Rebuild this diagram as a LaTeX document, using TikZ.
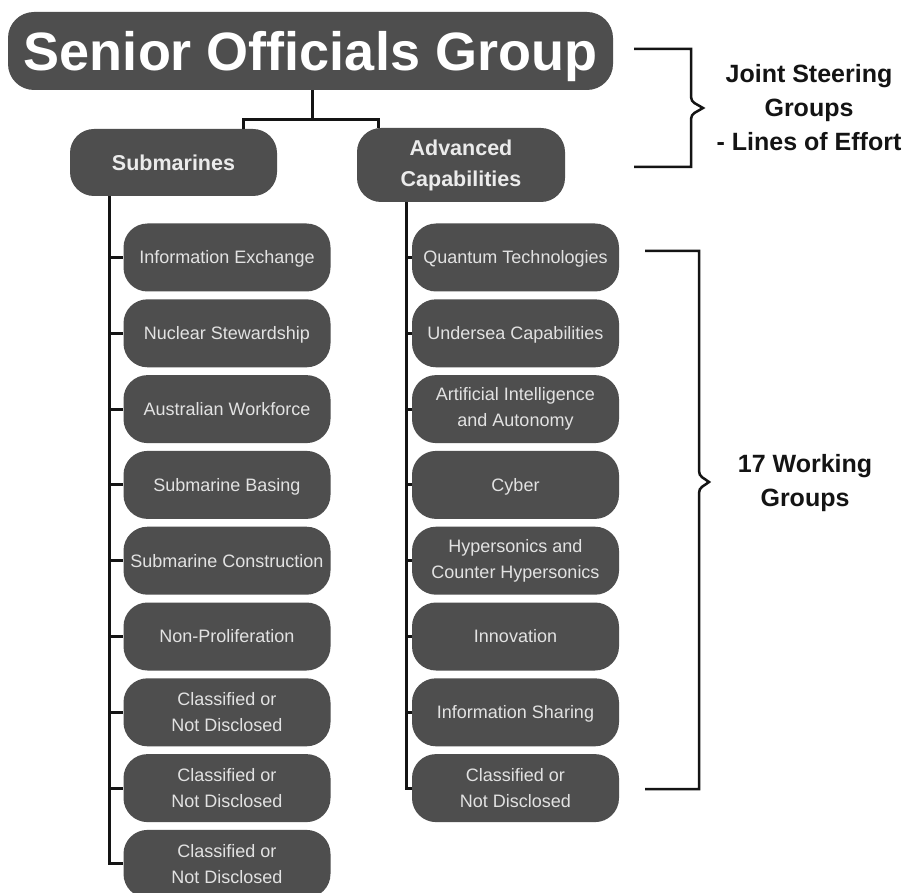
\documentclass[tikz,border=0pt]{standalone}
\usepackage{fontspec}
\setmainfont{Liberation Sans}
\definecolor{boxgray}{RGB}{78,78,78}
\definecolor{txtgray}{RGB}{226,226,226}
\definecolor{linec}{RGB}{20,20,20}
\tikzset{
  wg/.style={fill=boxgray, rounded corners=24pt, minimum width=207pt, minimum height=68pt,
    inner sep=0pt, text=txtgray, align=center, font=\fontsize{18}{25.7}\selectfont},
  wgone/.style={wg, text height=12.9pt, text depth=0pt},
  head/.style={fill=boxgray, rounded corners=24pt, minimum width=207pt, inner sep=0pt,
    text=white!92!black, align=center, font=\bfseries\fontsize{21.5}{31}\selectfont},
  link/.style={draw=linec, line width=3pt},
  bracketline/.style={draw=linec, line width=2.5pt},
  side/.style={align=center, text=linec, font=\bfseries\fontsize{25}{34}\selectfont}
}
\begin{document}
\begin{tikzpicture}[x=1pt, y=-1pt]
\useasboundingbox (0,0) rectangle (905,893);
\fill[white] (0,0) rectangle (905,893);
\clip (0,0) rectangle (905,893);

% top level
\node[fill=boxgray, rounded corners=26pt, minimum width=605pt, minimum height=78pt, inner sep=0pt,
  text=white, text height=38.7pt, text depth=0pt, font=\bfseries\fontsize{54}{60}\selectfont]
  (sog) at (310.5,51) {Senior Officials Group};

\node[head, minimum height=67pt, text height=15.4pt, text depth=0pt] (sub) at (173.5,162.5) {Submarines};
\node[head, minimum height=74pt, minimum width=208pt] (adv) at (461,165) {Advanced\\Capabilities};

% working groups, submarines
\node[wgone] (l1) at (227,257.5) {Information Exchange};
\node[wgone] (l2) at (227,333.3) {Nuclear Stewardship};
\node[wgone] (l3) at (227,409.1) {Australian Workforce};
\node[wgone] (l4) at (227,484.9) {Submarine Basing};
\node[wgone] (l5) at (227,560.7) {Submarine Construction};
\node[wgone] (l6) at (227,636.5) {Non-Proliferation};
\node[wg] (l7) at (227,712.3) {Classified or\\Not Disclosed};
\node[wg] (l8) at (227,788.1) {Classified or\\Not Disclosed};
\node[wg] (l9) at (227,863.9) {Classified or\\Not Disclosed};

% working groups, advanced capabilities
\node[wgone] (r1) at (515.5,257.5) {Quantum Technologies};
\node[wgone] (r2) at (515.5,333.3) {Undersea Capabilities};
\node[wg] (r3) at (515.5,409.1) {Artificial Intelligence\\and Autonomy};
\node[wgone] (r4) at (515.5,484.9) {Cyber};
\node[wg] (r5) at (515.5,560.7) {Hypersonics and\\Counter Hypersonics};
\node[wgone] (r6) at (515.5,636.5) {Innovation};
\node[wgone] (r7) at (515.5,712.3) {Information Sharing};
\node[wg] (r8) at (515.5,788.1) {Classified or\\Not Disclosed};

% connectors
\coordinate (hj) at (312,120);
\coordinate (hl) at (243,120);
\coordinate (hr) at (378,120);
\coordinate (spl) at (109,0);
\coordinate (spr) at (406,0);
\draw[link] (sog.south -| hj) -- (hj);
\draw[link, line join=miter] (sub.north -| hl) -- (hl) -- (hr) -- (adv.north -| hr);

\draw[link, line join=miter] (sub.south -| spl) |- (l9.west);
\foreach \n in {l1,l2,l3,l4,l5,l6,l7,l8}
  \draw[link] (spl |- \n.west) -- (\n.west);

\draw[link, line join=miter] (adv.south -| spr) |- (r8.west);
\foreach \n in {r1,r2,r3,r4,r5,r6,r7}
  \draw[link] (spr |- \n.west) -- (\n.west);

% side brackets and labels
\draw[bracketline, line join=miter] (634,49) -- (691,49) -- (691,97)
  .. controls (691,103) and (697,104) .. (703,108)
  .. controls (697,112) and (691,113) .. (691,119) -- (691,167) -- (634,167);
\node[side] (jsg) at (809,108) {Joint Steering\\Groups\\- Lines of Effort};

\draw[bracketline, line join=miter] (645,251) -- (699,251) -- (699,471)
  .. controls (699,477) and (704,478) .. (709,482)
  .. controls (704,486) and (699,487) .. (699,493) -- (699,789) -- (645,789);
\node[side] (wgs) at (805,483.5) {17 Working\\Groups};
\end{tikzpicture}
\end{document}
